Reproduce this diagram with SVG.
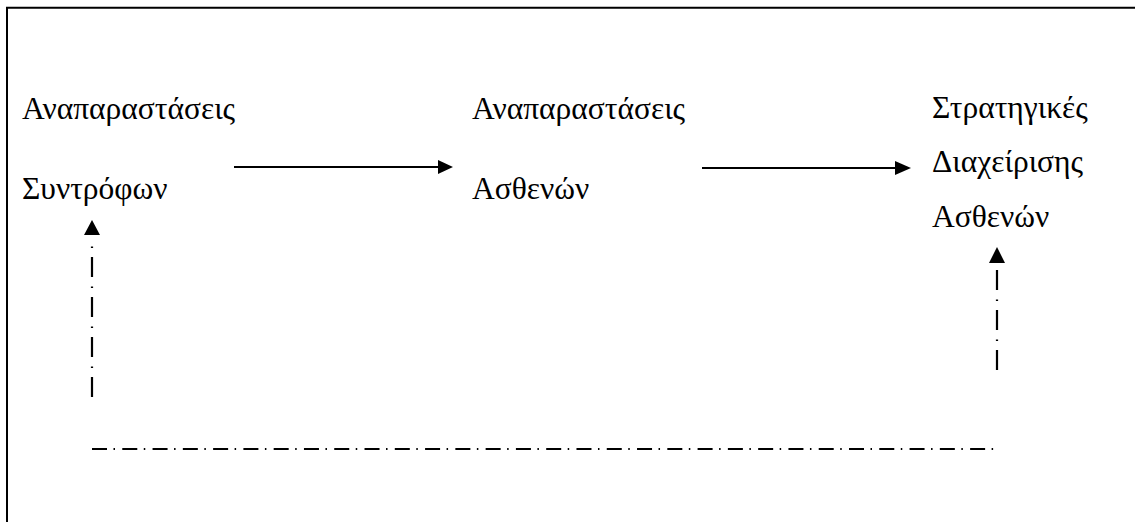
<svg xmlns="http://www.w3.org/2000/svg" width="1135" height="522" viewBox="0 0 1135 522">
  <style>
    .label { font-family: "Liberation Serif", "Times New Roman", serif; font-size: 31.5px; fill: #000; }
    .solid { stroke: #000; stroke-width: 2.2; fill: none; }
    .dashdot-v { stroke: #000; stroke-width: 2.2; fill: none; stroke-dasharray: 20 9 1.5 9.5; }
    .dashdot-h { stroke: #000; stroke-width: 2; fill: none; stroke-dasharray: 15 6.5 1.5 7.28; }
    .head { fill: #000; }
  </style>

  <rect width="1135" height="522" fill="#fff"/>

  <!-- frame: left and top edges -->
  <path d="M7,522 V7.7 H1135" stroke="#000" stroke-width="2" fill="none"/>

  <g id="node-partner">
    <text class="label" x="22" y="119">Αναπαραστάσεις</text>
    <text class="label" x="22" y="199">Συντρόφων</text>
  </g>

  <g id="node-patient">
    <text class="label" x="472" y="119">Αναπαραστάσεις</text>
    <text class="label" x="472" y="199">Ασθενών</text>
  </g>

  <g id="node-strategies">
    <text class="label" x="932" y="118">Στρατηγικές</text>
    <text class="label" x="932" y="172">Διαχείρισης</text>
    <text class="label" x="932" y="227">Ασθενών</text>
  </g>

  <g id="connectors">
    <!-- partner -> patient -->
    <line class="solid" x1="234" y1="167" x2="440" y2="167"/>
    <polygon class="head" points="438,160 453,167 438,174"/>
    <!-- patient -> strategies -->
    <line class="solid" x1="702" y1="168" x2="897" y2="168"/>
    <polygon class="head" points="895,161 911,168 895,175"/>
    <!-- feedback loop -->
    <path class="dashdot-v" d="M92,397 V240"/>
    <polygon class="head" points="84,235 92,220 100,235"/>
    <path class="dashdot-v" d="M997,370 V268"/>
    <polygon class="head" points="989,263 997,247 1005,263"/>
    <path class="dashdot-h" d="M92,449 H995"/>
  </g>
</svg>
